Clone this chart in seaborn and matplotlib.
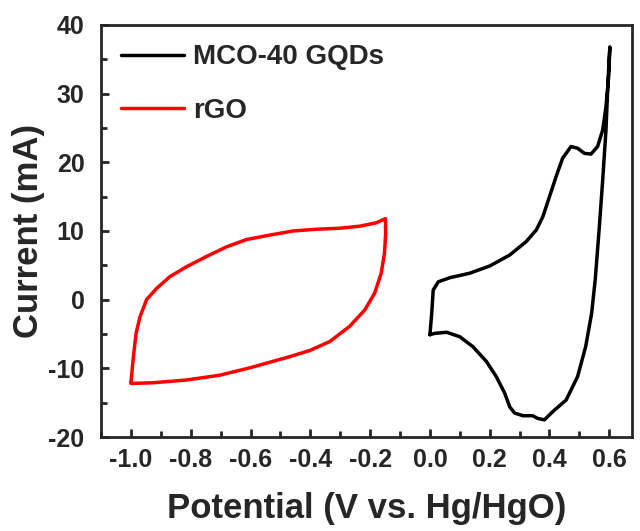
import numpy as np
import pandas as pd
import seaborn as sns
import matplotlib.pyplot as plt
from matplotlib.ticker import MultipleLocator

# CV of MCO-40 GQDs (anodic sweep then cathodic sweep)
mco_v = [0.0, 0.006, 0.011, 0.028, 0.067, 0.133, 0.200, 0.267, 0.322, 0.356,
         0.378, 0.400, 0.422, 0.444, 0.472, 0.494, 0.517, 0.539, 0.561, 0.578,
         0.589, 0.598, 0.602,
         0.596, 0.589, 0.578, 0.566, 0.553, 0.541, 0.521, 0.494, 0.456, 0.411,
         0.383, 0.361, 0.344, 0.311, 0.283, 0.267, 0.250, 0.222, 0.189, 0.144,
         0.100, 0.056, 0.017, 0.0]
mco_i = [-5.1, -2.0, 1.4, 2.6, 3.2, 3.85, 4.9, 6.5, 8.45, 10.15,
         12.1, 15.0, 17.9, 20.6, 22.3, 22.05, 21.3, 21.2, 22.3, 24.7,
         28.1, 32.5, 36.8,
         32.0, 24.7, 17.4, 10.15, 2.9, -2.0, -6.85, -11.2, -14.6, -16.3,
         -17.5, -17.3, -16.9, -16.9, -16.5, -15.6, -13.6, -11.2, -9.0, -6.85,
         -5.4, -4.75, -4.9, -5.1]

# CV of rGO
rgo_v = [-1.0, -0.992, -0.983, -0.970, -0.948, -0.914, -0.870, -0.814, -0.747,
         -0.680, -0.614, -0.536, -0.458, -0.380, -0.302, -0.235, -0.179, -0.149,
         -0.148, -0.152, -0.163, -0.185, -0.218, -0.269, -0.335, -0.402, -0.469,
         -0.547, -0.600, -0.703, -0.814, -0.926, -1.0, -1.0]
rgo_i = [-12.0, -8.3, -4.9, -2.5, 0.0, 1.66, 3.35, 4.8, 6.3,
         7.7, 8.75, 9.4, 10.0, 10.25, 10.4, 10.7, 11.2, 11.8,
         9.7, 6.75, 3.85, 0.94, -1.5, -3.9, -6.1, -7.4, -8.3,
         -9.25, -9.9, -11.0, -11.7, -12.1, -12.2, -12.0]

mco = pd.DataFrame({'v': mco_v, 'i': mco_i})
rgo = pd.DataFrame({'v': rgo_v, 'i': rgo_i})

sns.set_style('ticks')
plt.rcParams['font.family'] = ['Liberation Sans', 'DejaVu Sans']
plt.rcParams['font.weight'] = 'bold'

fig = plt.figure(figsize=(6.4, 5.31), dpi=100)
ax = fig.add_axes([0.158, 0.177, 0.829, 0.776])

sns.lineplot(data=mco, x='v', y='i', sort=False, estimator=None,
             color='black', linewidth=2.5, label='MCO-40 GQDs', ax=ax)
sns.lineplot(data=rgo, x='v', y='i', sort=False, estimator=None,
             color='#ff0000', linewidth=2.5, label='rGO', ax=ax)
for ln in ax.get_lines():
    ln.set_solid_joinstyle('round')

ax.set_xlim(-1.1, 0.675)
ax.set_ylim(-20, 40)
ax.xaxis.set_minor_locator(MultipleLocator(0.1))
ax.yaxis.set_minor_locator(MultipleLocator(5))
ax.set_xticks(np.arange(-1.0, 0.61, 0.2))
ax.set_xticklabels(['-1.0', '-0.8', '-0.6', '-0.4', '-0.2', '0.0', '0.2', '0.4', '0.6'])
ax.set_yticks(range(-20, 41, 10))
ax.set_yticklabels([str(t) for t in range(-20, 41, 10)])

ax.tick_params(which='major', direction='in', length=6, width=2, labelsize=18, pad=8)
ax.tick_params(axis='y', which='major', pad=12)
ax.tick_params(which='minor', direction='in', length=4, width=2)
ax.tick_params(which='both', top=False, right=False)
for lab in ax.get_xticklabels() + ax.get_yticklabels():
    lab.set_fontweight('bold')
for s in ax.spines.values():
    s.set_linewidth(2)

ax.set_xlabel('Potential (V vs. Hg/HgO)', fontsize=25, fontweight='bold', labelpad=14)
ax.set_ylabel('Current (mA)', fontsize=25, fontweight='bold', labelpad=2)

leg = ax.legend(loc='upper left', frameon=False, fontsize=20, handlelength=2.3,
                labelspacing=1.0, handletextpad=0.3, borderaxespad=0.3)
for t in leg.get_texts():
    t.set_fontweight('bold')

fig.savefig('out.png', dpi=100)
